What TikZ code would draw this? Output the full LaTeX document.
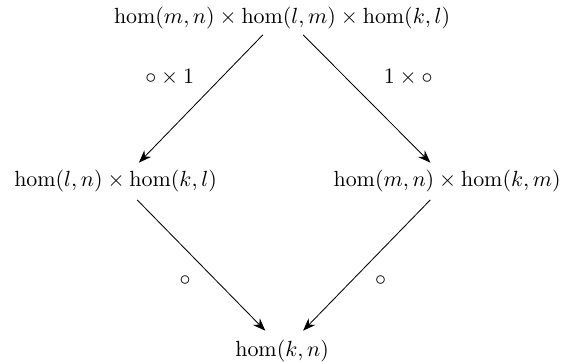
\RequirePackage{fix-cm}
\documentclass[tikz,border=0pt]{standalone}
\usepackage{amsmath}
\usetikzlibrary{arrows.meta}
\DeclareMathOperator{\homset}{hom}
\begin{document}
\begin{tikzpicture}[>={Stealth[length=6pt,width=4.5pt]},font=\fontsize{10.4}{12.5}\selectfont]
  \useasboundingbox (0,0) rectangle (9.43,6.03);
  \node (mnl) at (4.70,5.73) {$\homset(m,n)\times\homset(l,m)\times\homset(k,l)$};
  \node (ln) at (1.925,3.02) {$\homset(l,n)\times\homset(k,l)$};
  \node (mn) at (7.45,3.02) {$\homset(m,n)\times\homset(k,m)$};
  \node (kn) at (4.70,0.19) {$\homset(k,n)$};
  \draw[->] ([shift={(-0.32,-0.28)}]mnl.center) -- ([shift={(0.39,0.30)}]ln.center)
    node[midway, shift={(-0.52,0.35)}] {$\circ\times 1$};
  \draw[->] ([shift={(0.35,-0.28)}]mnl.center) -- ([shift={(-0.28,0.30)}]mn.center)
    node[midway, shift={(0.69,0.35)}] {$1\times\circ$};
  \draw[->] ([shift={(0.36,-0.32)}]ln.center) -- ([shift={(-0.28,0.33)}]kn.center)
    node[midway, shift={(-0.27,-0.25)}] {$\circ$};
  \draw[->] ([shift={(-0.28,-0.32)}]mn.center) -- ([shift={(0.35,0.33)}]kn.center)
    node[midway, shift={(0.23,-0.25)}] {$\circ$};
\end{tikzpicture}
\end{document}
